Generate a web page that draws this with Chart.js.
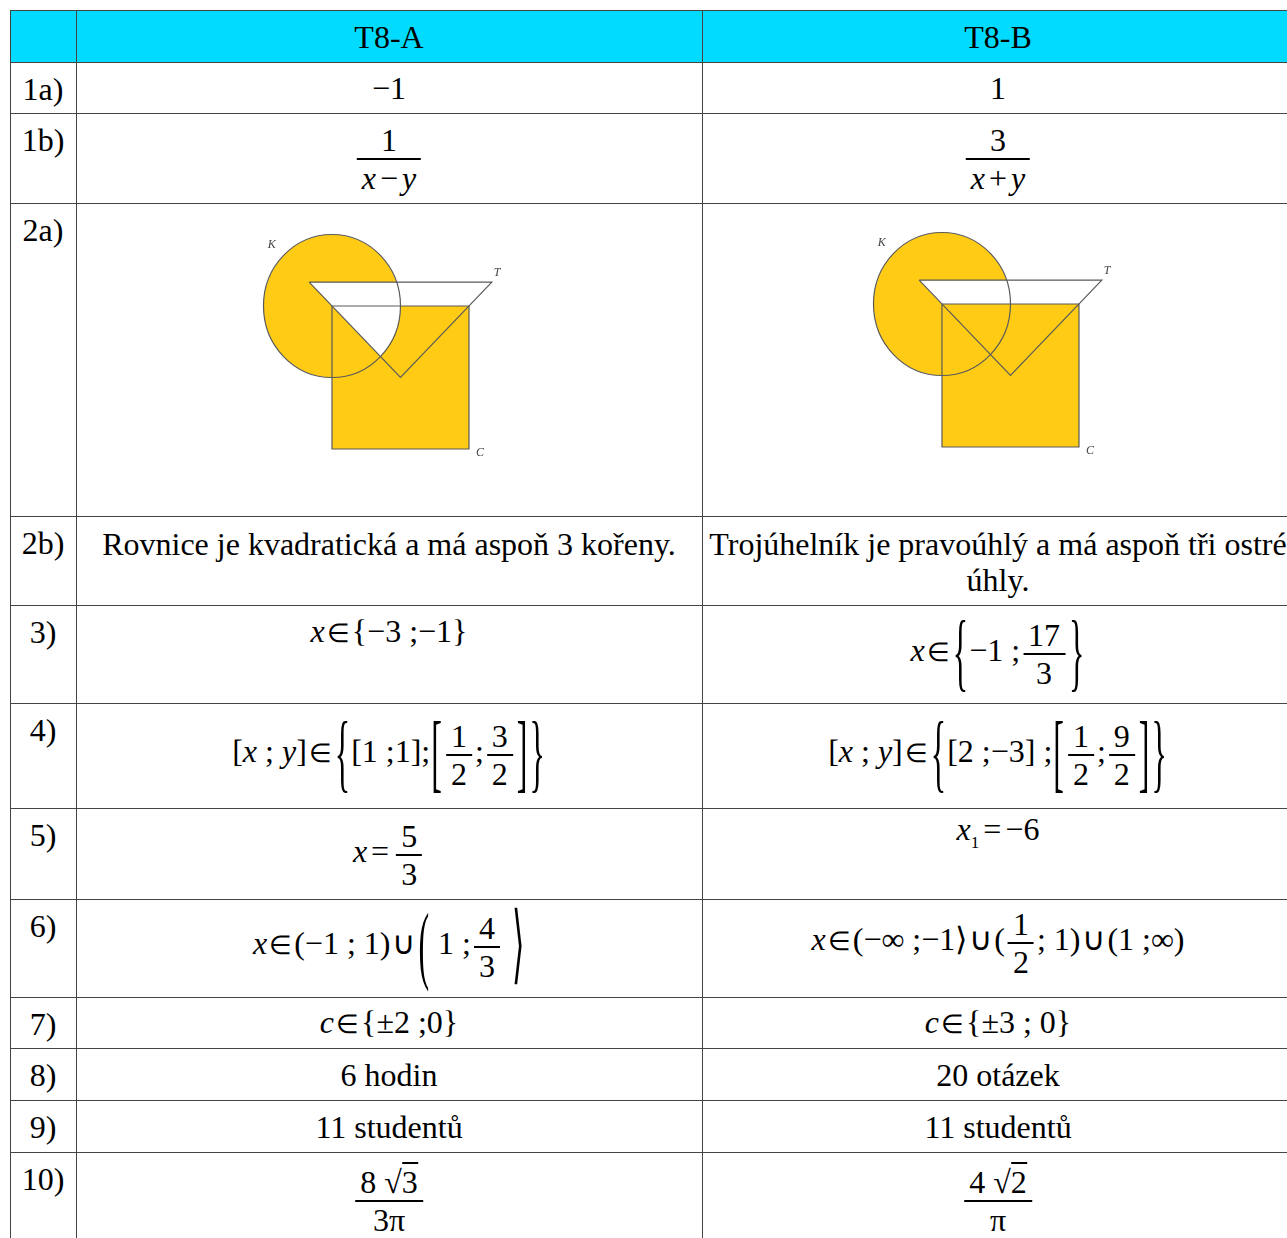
<!DOCTYPE html>
<html>
<head>
<meta charset="utf-8">
<script src="https://cdn.jsdelivr.net/npm/chart.js@4.4.0/dist/chart.umd.min.js"></script>
<style>
body { margin: 0; background: #fff; }
#page { position: relative; width: 1287px; height: 1238px; overflow: hidden; font-family: "Liberation Serif", "Times New Roman", serif; font-size: 32px; color: #000; }
.hl { position: absolute; height: 1px; background: #444; }
.vl { position: absolute; width: 1px; background: #444; }
.txt { position: absolute; transform: translate(-50%, -50%); white-space: nowrap; line-height: 36px; text-align: center; }
.frac { display: inline-flex; flex-direction: column; align-items: center; vertical-align: middle; margin: 0 3px; }
.frac .n, .frac .d { line-height: 36px; padding: 0 5px; }
.frac .bar { height: 2px; background: #000; align-self: stretch; }
.big { display: inline-block; transform: scaleY(2.7); line-height: 36px; margin: 0 1px; }
.sq { border-top: 2px solid #000; }
.el { font-size: 26px; margin: 0 2px; }
.s { margin: 0 4px; }
.u { margin: 0 2px; }
canvas { position: absolute; }
</style>
</head>
<body>
<div id="page"></div>
<script>
// popisky radku a sloupcu
const headers = ["", "T8-A", "T8-B"];
const rowLabels = ["1a)", "1b)", "2a)", "2b)", "3)", "4)", "5)", "6)", "7)", "8)", "9)", "10)"];

function frac(n, d) {
    return '<span class="frac"><span class="n">' + n + '</span><span class="bar"></span><span class="d">' + d + '</span></span>';
}
function big(ch) {
    return '<span class="big">' + ch + '</span>';
}
const IN = '<span class="el">∈</span>';
const CUP = '<span class="u">∪</span>';
function op(c) { return '<span class="s">' + c + '</span>'; }

// reseni skupiny A a B
const answersA = [
    "−1",
    frac("1", "<i>x</i>" + op("−") + "<i>y</i>"),
    null,
    "Rovnice je kvadratická a má aspoň 3 kořeny.",
    "<i>x</i>" + IN + "{−3 ;−1}",
    "[<i>x</i> ; <i>y</i>]" + IN + big("{") + "[1 ;1];" + big("[") + frac("1", "2") + ";" + frac("3", "2") + big("]") + big("}"),
    "<i>x</i>" + op("=") + frac("5", "3"),
    "<i>x</i>" + IN + "(−1 ; 1)" + CUP + big("(") + " 1 ;" + frac("4", "3") + " " + big("⟩"),
    "<i>c</i>" + IN + "{±2 ;0}",
    "6 hodin",
    "11 studentů",
    frac('8 √<span class="sq">3</span>', "3π"),
];
const answersB = [
    "1",
    frac("3", "<i>x</i>" + op("+") + "<i>y</i>"),
    null,
    "Trojúhelník je pravoúhlý a má aspoň tři ostré<br>úhly.",
    "<i>x</i>" + IN + big("{") + "−1 ;" + frac("17", "3") + big("}"),
    "[<i>x</i> ; <i>y</i>]" + IN + big("{") + "[2 ;−3] ;" + big("[") + frac("1", "2") + ";" + frac("9", "2") + big("]") + big("}"),
    "<i>x</i><sub style='font-size:17px'>1</sub>" + op("=") + "−6",
    "<i>x</i>" + IN + "(−∞ ;−1⟩" + CUP + "(" + frac("1", "2") + "; 1)" + CUP + "(1 ;∞)",
    "<i>c</i>" + IN + "{±3 ; 0}",
    "20 otázek",
    "11 studentů",
    frac('4 √<span class="sq">2</span>', "π"),
];

// obrazce K (kruh), T (trojuhelnik), C (ctverec)
const circleK = { x: 0, y: 0, r: 1 };
const triangleT = [{ x: -1 / 3, y: 1 / 3 }, { x: 7 / 3, y: 1 / 3 }, { x: 1, y: -1 }];
const squareC = [{ x: 0, y: 0 }, { x: 2, y: 0 }, { x: 2, y: -2 }, { x: 0, y: -2 }];
const shapeLabels = [
    { x: -0.88, y: 0.85, t: "K" },
    { x: 2.41, y: 0.46, t: "T" },
    { x: 2.16, y: -2.06, t: "C" },
];

// rozlozeni
const rowTops = [10, 62, 113, 203, 516, 605, 703, 808, 899, 997, 1048, 1100, 1152, 1300];
const colX = [10, 76, 702, 1294];
const colCenter = [43, 389, 998];
const ansY = [[88, 88], [159, 159], null, [544, 562], [632, 654], [755, 755], [855, 836], [947, 943], [1023, 1023], [1075, 1075], [1127, 1127], [1201, 1201]];

const page = document.getElementById("page");
function add(cls, style, html) {
    const d = document.createElement("div");
    d.className = cls;
    Object.assign(d.style, style);
    if (html !== undefined) d.innerHTML = html;
    page.appendChild(d);
    return d;
}

// hlavicka
add("", { position: "absolute", left: "10px", top: "10px", width: "1290px", height: "52px", background: "#00dbff" });
headers.forEach(function (h, i) {
    add("txt", { left: colCenter[i] + "px", top: "37px" }, h);
});

rowLabels.forEach(function (lab, i) {
    const top = rowTops[i + 1];
    add("txt", { left: "43px", top: top + 27 + "px" }, lab);
    if (ansY[i]) {
        add("txt", { left: colCenter[1] + "px", top: ansY[i][0] + "px" }, answersA[i]);
        add("txt", { left: colCenter[2] + "px", top: ansY[i][1] + "px" }, answersB[i]);
    }
});

// mrizka
rowTops.forEach(function (y) {
    if (y < 1238) add("hl", { left: "10px", top: y + "px", width: "1290px" });
});
colX.forEach(function (x) {
    add("vl", { left: x + "px", top: "10px", height: "1240px" });
});

// kresleni obrazcu
function polyPath(ctx, pts, xs, ys) {
    ctx.beginPath();
    pts.forEach(function (p, i) {
        const px = xs.getPixelForValue(p.x), py = ys.getPixelForValue(p.y);
        if (i) ctx.lineTo(px, py); else ctx.moveTo(px, py);
    });
    ctx.closePath();
}
function circlePath(ctx, c, xs, ys) {
    const cx = xs.getPixelForValue(c.x), cy = ys.getPixelForValue(c.y);
    const rx = Math.abs(xs.getPixelForValue(c.x + c.r) - cx);
    const ry = Math.abs(ys.getPixelForValue(c.y + c.r) - cy);
    ctx.beginPath();
    ctx.ellipse(cx, cy, rx, ry, 0, 0, 2 * Math.PI);
}

const yellow = "#ffcb14";
const lineCol = "#5a5a5a";

const regionsPlugin = {
    id: "regions",
    beforeDatasetsDraw: function (chart, args, opts) {
        const ctx = chart.ctx, xs = chart.scales.x, ys = chart.scales.y;
        ctx.save();
        ctx.fillStyle = yellow;
        circlePath(ctx, circleK, xs, ys); ctx.fill();
        polyPath(ctx, squareC, xs, ys); ctx.fill();
        if (opts.variant === "A") {
            // K ∩ T bile
            circlePath(ctx, circleK, xs, ys); ctx.clip();
            ctx.fillStyle = "#fff";
            polyPath(ctx, triangleT, xs, ys); ctx.fill();
        } else {
            // T \ C bile
            ctx.fillStyle = "#fff";
            polyPath(ctx, triangleT, xs, ys); ctx.fill();
            ctx.fillStyle = yellow;
            polyPath(ctx, squareC, xs, ys); ctx.fill();
        }
        ctx.restore();
    },
    afterDatasetsDraw: function (chart) {
        const ctx = chart.ctx, xs = chart.scales.x, ys = chart.scales.y;
        ctx.save();
        ctx.strokeStyle = lineCol;
        ctx.lineWidth = 1.2;
        circlePath(ctx, circleK, xs, ys); ctx.stroke();
        ctx.fillStyle = "#444";
        ctx.font = "italic 12px 'Liberation Serif', serif";
        ctx.textAlign = "center";
        ctx.textBaseline = "middle";
        shapeLabels.forEach(function (l) {
            ctx.fillText(l.t, xs.getPixelForValue(l.x), ys.getPixelForValue(l.y));
        });
        ctx.restore();
    },
};

function makeDiagram(left, top, variant) {
    const cv = document.createElement("canvas");
    cv.width = 280; cv.height = 245;
    cv.style.left = left + "px"; cv.style.top = top + "px";
    page.appendChild(cv);
    new Chart(cv.getContext("2d"), {
        type: "scatter",
        data: {
            datasets: [
                { data: triangleT.concat([triangleT[0]]), showLine: true, borderColor: lineCol, borderWidth: 1.2, pointRadius: 0, fill: false, tension: 0 },
                { data: squareC.concat([squareC[0]]), showLine: true, borderColor: lineCol, borderWidth: 1.2, pointRadius: 0, fill: false, tension: 0 },
            ],
        },
        options: {
            responsive: false,
            animation: false,
            devicePixelRatio: 1,
            layout: { padding: 0 },
            plugins: { legend: { display: false }, tooltip: { enabled: false }, regions: { variant: variant } },
            scales: {
                x: { type: "linear", display: false, min: -1.343, max: 2.745 },
                y: { type: "linear", display: false, min: -2.294, max: 1.133 },
            },
        },
        plugins: [regionsPlugin],
    });
}

makeDiagram(240, 225, "A");
makeDiagram(850, 223, "B");
</script>
</body>
</html>
